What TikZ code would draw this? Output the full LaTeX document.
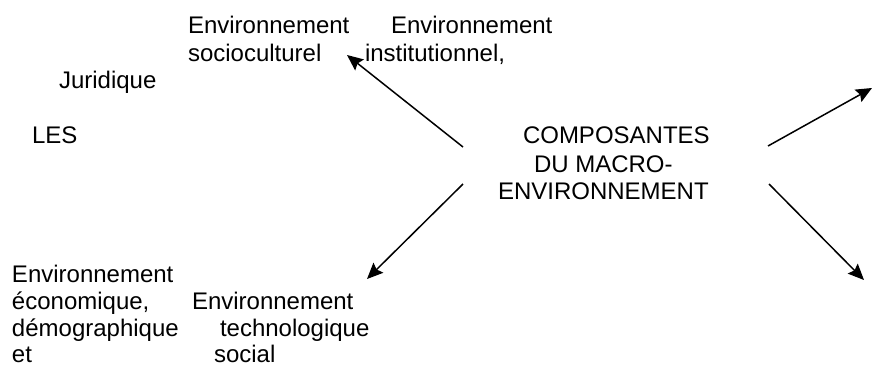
\documentclass[tikz,border=0pt]{standalone}
\usepackage{fontspec}
\setmainfont{Liberation Sans}
\usetikzlibrary{arrows.meta}
\begin{document}
\begin{tikzpicture}[x=1pt,y=-1pt,
  lbl/.style={anchor=base west,inner sep=0pt,outer sep=0pt,
    font=\fontsize{24}{27.6}\selectfont},
  arr/.style={line width=1.5pt,-{Stealth[length=16pt,width=14pt,inset=2.5pt]}}]
\useasboundingbox (0,0) rectangle (873,365);

% top labels
\node[lbl] (envsc)  at (188,33) {Environnement};
\node[lbl] (socio)  at (188,61) {socioculturel};
\node[lbl] (envin)  at (391,33) {Environnement};
\node[lbl] (instit) at (365,61) {institutionnel,};
\node[lbl] (jur)    at (59,88)  {Juridique};
\node[lbl] (les)    at (32,143) {LES};

% central title
\node[lbl] (comp) at (523,143) {COMPOSANTES};
\node[lbl] (du)   at (534,172) {DU MACRO-};
\node[lbl] (envm) at (498,199) {ENVIRONNEMENT};

% bottom labels
\node[lbl] (enveco) at (12,282) {Environnement};
\node[lbl] (eco)    at (12,309) {économique,};
\node[lbl] (demo)   at (12,336) {démographique};
\node[lbl] (et)     at (12,362) {et};
\node[lbl] (envtec) at (192,309) {Environnement};
\node[lbl] (tech)   at (220,336) {technologique};
\node[lbl] (soc)    at (214,362) {social};

% arrow end points around the title
\coordinate (s1) at (463,147);
\coordinate (e1) at (347,55);
\coordinate (s2) at (463,184);
\coordinate (e2) at (367,279);
\coordinate (s3) at (768,146);
\coordinate (e3) at (872,88);
\coordinate (s4) at (769,184);
\coordinate (e4) at (864,280);

\draw[arr] (s1) -- (e1);
\draw[arr] (s2) -- (e2);
\draw[arr] (s3) -- (e3);
\draw[arr] (s4) -- (e4);
\end{tikzpicture}
\end{document}
